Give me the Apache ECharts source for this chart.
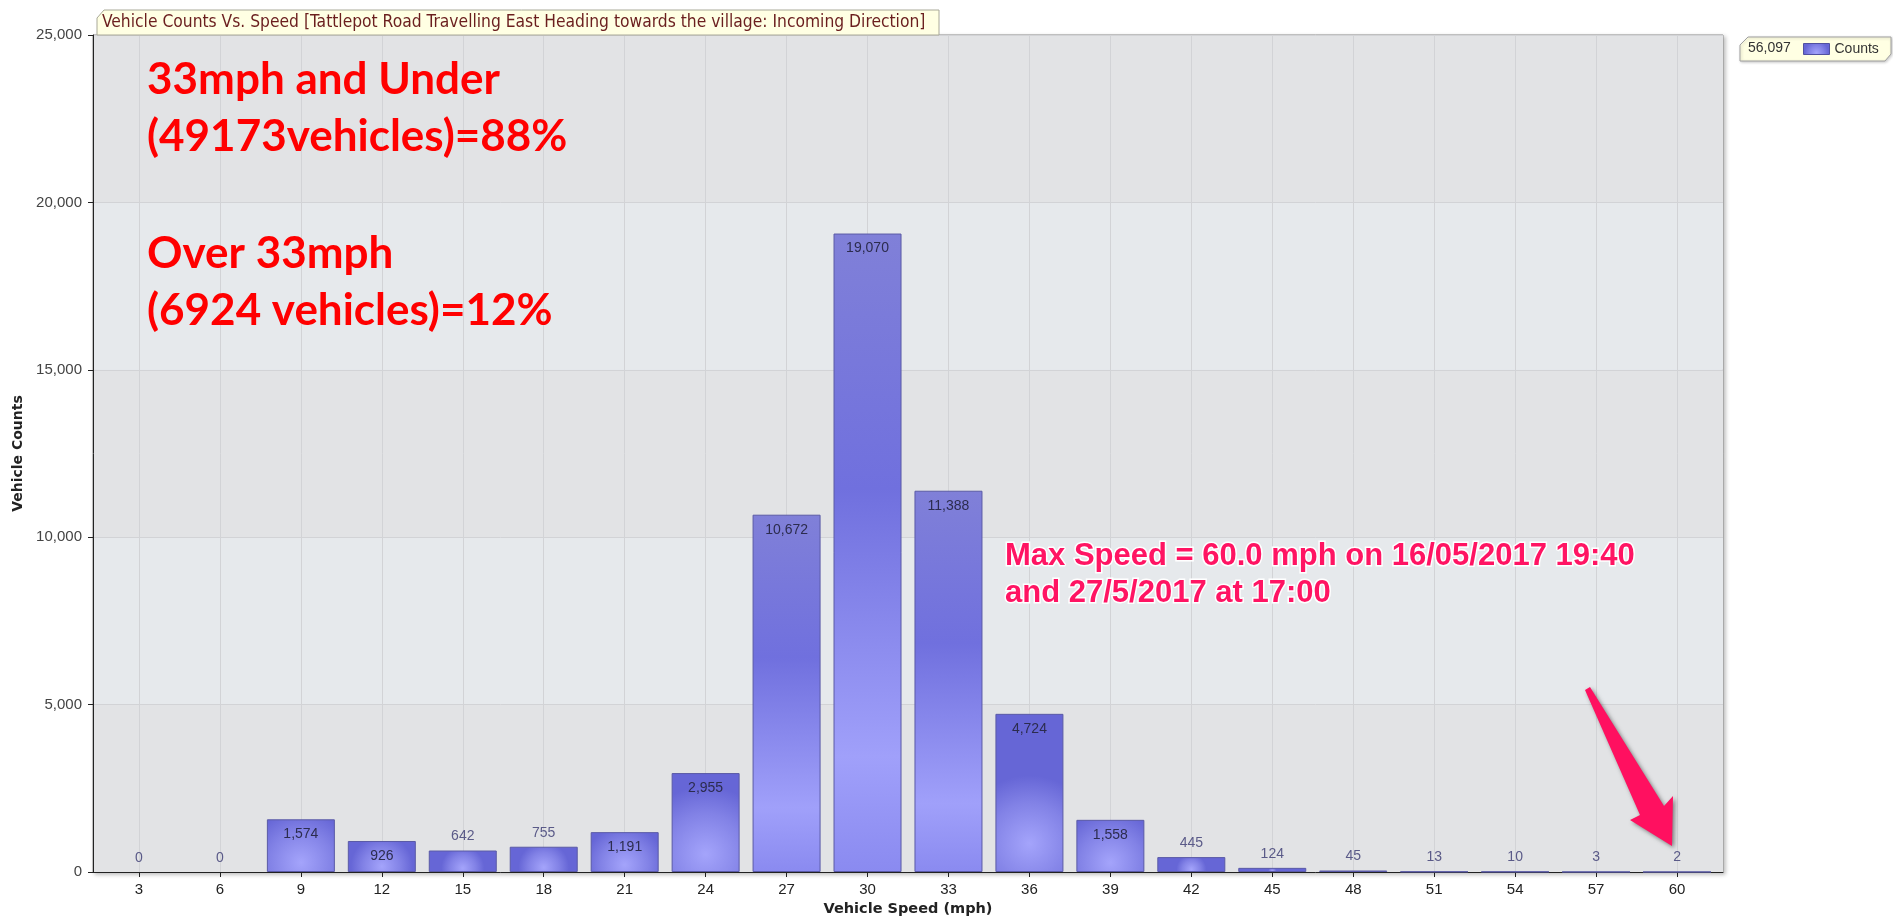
<!DOCTYPE html>
<html>
<head>
<meta charset="utf-8">
<script src="https://cdn.jsdelivr.net/npm/echarts@6/dist/echarts.min.js"></script>
<style>
html,body{margin:0;padding:0;background:#fff;}
#chart{width:1893px;height:916px;}
</style>
</head>
<body>
<div id="chart"></div>
<script>
// ---- data ----
const speeds = ['3','6','9','12','15','18','21','24','27','30','33','36','39','42','45','48','51','54','57','60'];
const counts = [0,0,1574,926,642,755,1191,2955,10672,19070,11388,4724,1558,445,124,45,13,10,3,2];
const yMin = 0, yMax = 25000, yStep = 5000;
const seriesName = 'Counts';
const titleText = 'Vehicle Counts Vs. Speed [Tattlepot Road Travelling East Heading towards the village: Incoming Direction]';
const xName = 'Vehicle Speed (mph)';
const yName = 'Vehicle Counts';
const noteRed = ['33mph and Under', '(49173vehicles)=88%', 'Over 33mph', '(6924 vehicles)=12%'];
const notePink = ['Max Speed = 60.0 mph on 16/05/2017 19:40', 'and 27/5/2017 at 17:00'];

const fmt = v => String(v).replace(/\B(?=(\d{3})+(?!\d))/g, ',');
const total = counts.reduce((a, b) => a + b, 0);

const radialFill = {
  type: 'radial', x: 0.5, y: 0.82, r: 1.0,
  colorStops: [{offset: 0, color: '#a4a4fb'}, {offset: 0.6, color: '#8282e6'}, {offset: 1, color: '#6666d6'}]
};
const linearFill = {
  type: 'linear', x: 0, y: 0, x2: 0, y2: 1,
  colorStops: [{offset: 0, color: '#8080d8'}, {offset: 0.4, color: '#7070de'}, {offset: 0.82, color: '#a0a0fa'}, {offset: 1, color: '#8a8af0'}]
};
const labelInside = {position: 'insideTop', distance: 8, color: '#2c2c4e'};
const labelTop = {position: 'top', distance: 7, color: '#5a5a88'};

const barData = counts.map(v => ({
  value: v,
  itemStyle: {color: v > 8000 ? linearFill : radialFill, borderWidth: v === 0 ? 0 : 1},
  label: v >= 900 ? labelInside : labelTop
}));

const chart = echarts.init(document.getElementById('chart'));
const font = 'Arial, "Liberation Sans", sans-serif';
const nameFont = '"DejaVu Sans", Verdana, sans-serif';

chart.setOption({
  animation: false,
  backgroundColor: '#ffffff',
  grid: [
    {left: 93, right: 170, top: 35, bottom: 44, show: true, borderColor: '#8c8c8c', borderWidth: 1,
     outerBoundsMode: 'none', containLabel: false,
     backgroundColor: '#e5e7ea', shadowColor: 'rgba(0,0,0,0.25)', shadowBlur: 4, shadowOffsetX: 2, shadowOffsetY: 2},
    {left: 98.5, right: 175.5, top: 35, bottom: 44, outerBoundsMode: 'none', containLabel: false}
  ],
  legend: {
    data: [seriesName], left: 1803, top: 42, itemWidth: 26, itemHeight: 11, padding: 0,
    icon: 'rect',
    textStyle: {fontFamily: font, fontSize: 14, color: '#333'},
    itemStyle: {borderColor: '#5050a0', borderWidth: 1}
  },
  xAxis: [
    {type: 'value', gridIndex: 0, min: 0, max: 1, axisLabel: {show: false}, axisTick: {show: false},
     splitLine: {show: false}, axisLine: {show: true, lineStyle: {color: '#222', width: 1}}},
    {type: 'category', gridIndex: 1, data: speeds, axisLine: {show: false},
     axisTick: {show: true, alignWithLabel: true, length: 5, lineStyle: {color: '#222'}},
     axisLabel: {fontFamily: font, fontSize: 15, color: '#222', margin: 10},
     splitLine: {show: false},
     name: xName, nameLocation: 'middle', nameGap: 26,
     nameTextStyle: {fontFamily: nameFont, fontSize: 14.5, fontWeight: 'bold', color: '#222'}}
  ],
  yAxis: [
    {type: 'value', gridIndex: 0, min: yMin, max: yMax, interval: yStep,
     axisLine: {show: true, lineStyle: {color: '#222', width: 1}},
     axisTick: {show: true, length: 5, lineStyle: {color: '#222'}},
     axisLabel: {fontFamily: font, fontSize: 15, color: '#444', margin: 11, formatter: v => fmt(v)},
     splitLine: {show: true, lineStyle: {color: '#d2d3d6', width: 1}},
     splitArea: {show: true, areaStyle: {color: ['#e2e3e5', '#e6e9ec']}},
     name: yName, nameLocation: 'middle', nameGap: 68,
     nameTextStyle: {fontFamily: nameFont, fontSize: 14, fontWeight: 'bold', color: '#222'}},
    {type: 'value', gridIndex: 1, min: yMin, max: yMax, interval: yStep, show: false, splitLine: {show: false}}
  ],
  series: [
    {
      name: 'grid', type: 'line', xAxisIndex: 1, yAxisIndex: 1, data: [], z: 1, silent: true,
      markLine: {
        z: 1, silent: true, symbol: ['none', 'none'], label: {show: false},
        lineStyle: {color: '#d2d3d6', type: 'solid', width: 1},
        emphasis: {disabled: true},
        data: speeds.map(s => ({xAxis: s}))
      }
    },
    {
      name: seriesName, type: 'bar', xAxisIndex: 1, yAxisIndex: 1, z: 2,
      barCategoryGap: '16%',
      itemStyle: {color: radialFill, borderColor: '#5a5aa6', borderWidth: 1},
      label: {show: true, fontFamily: font, fontSize: 14, formatter: p => fmt(p.value)},
      data: barData
    }
  ],
  graphic: [
    // title tab
    {type: 'polygon', z: 10, shape: {points: [[104,10],[939,10],[939,35],[97,35],[97,18]]},
     style: {fill: '#ffffe3', stroke: '#a8a898', lineWidth: 1}},
    {type: 'text', z: 11, x: 102, y: 23,
     style: {text: titleText, fill: '#6a1e1e', font: '17.3px "DejaVu Sans Condensed", "Liberation Sans Narrow", sans-serif',
             align: 'left', verticalAlign: 'middle', textAlign: 'left', textVerticalAlign: 'middle'}},
    // legend box
    {type: 'polygon', z: -1, shape: {points: [[1748,37],[1891,37],[1891,54],[1885,61],[1740,61],[1740,45]]},
     style: {fill: '#ffffe3', stroke: '#a0a0a0', lineWidth: 1, shadowColor: 'rgba(0,0,0,0.2)', shadowBlur: 3, shadowOffsetX: 1, shadowOffsetY: 1}},
    {type: 'text', z: 11, x: 1748, y: 48,
     style: {text: fmt(total), fill: '#333', font: '14px Arial, "Liberation Sans", sans-serif',
             align: 'left', verticalAlign: 'middle', textAlign: 'left', textVerticalAlign: 'middle'}},
    // red notes
    ...noteRed.map((t, i) => ({
      type: 'text', z: 20, x: 147, y: [80, 137, 254, 311][i],
      style: {text: t, fill: '#ff0000', font: 'bold 44px Lato, "Open Sans", sans-serif',
              align: 'left', verticalAlign: 'middle', textAlign: 'left', textVerticalAlign: 'middle'}
    })),
    // pink notes
    ...notePink.map((t, i) => ({
      type: 'text', z: 20, x: 1005, y: [556, 593][i],
      style: {text: t, fill: '#ff1463', font: 'bold 31px "Liberation Sans", Arial, sans-serif',
              stroke: '#ffffff', lineWidth: 3,
              shadowColor: 'rgba(0,0,0,0.45)', shadowBlur: 3, shadowOffsetX: 2, shadowOffsetY: 2,
              align: 'left', verticalAlign: 'middle', textAlign: 'left', textVerticalAlign: 'middle'}
    })),
    // arrow
    {type: 'polygon', z: 20,
     shape: {points: [[1585,690],[1640,815],[1630,820],[1672,846],[1673,796],[1664,806],[1590,687]]},
     style: {fill: '#ff1060', shadowColor: 'rgba(0,0,0,0.45)', shadowBlur: 4, shadowOffsetX: 2, shadowOffsetY: 2}}
  ]
});
</script>
</body>
</html>
